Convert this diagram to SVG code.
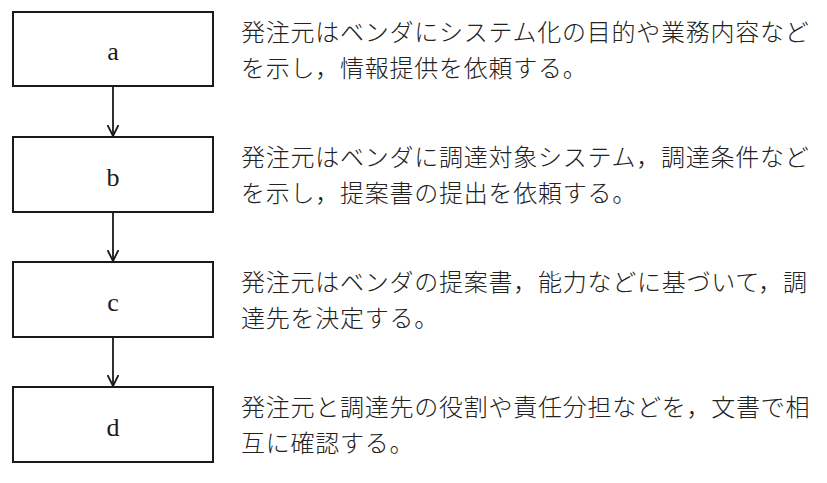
<svg xmlns="http://www.w3.org/2000/svg" width="827" height="483" viewBox="0 0 827 483">
<defs>
<style>
.box{fill:#fff;stroke:#1a1a1a;stroke-width:2}
.lbl{font-family:"Liberation Serif","Times New Roman",serif;font-size:26px;fill:#1a1a1a;text-anchor:middle}
.desc{font-family:"Noto Sans CJK JP","Noto Sans CJK SC",sans-serif;font-size:24px;font-weight:300;letter-spacing:0.75px;fill:#222}
.conn{stroke:#1a1a1a;stroke-width:1.8;fill:none}
</style>
<marker id="arr" viewBox="0 0 12 12" refX="11" refY="6" markerWidth="12" markerHeight="12" markerUnits="userSpaceOnUse" orient="auto">
<path d="M0,0.5 L11,6 L0,11.5" fill="none" stroke="#1a1a1a" stroke-width="1.8"/>
</marker>
</defs>
<rect width="827" height="483" fill="#fff"/>
<g id="connectors">
<line class="conn" x1="113" y1="86" x2="113" y2="136" marker-end="url(#arr)"/>
<line class="conn" x1="113" y1="212" x2="113" y2="261" marker-end="url(#arr)"/>
<line class="conn" x1="113" y1="337" x2="113" y2="386" marker-end="url(#arr)"/>
</g>
<g id="node-a">
<rect class="box" x="13" y="12" width="200" height="74"/>
<text class="lbl" x="113" y="60">a</text>
<text class="desc" x="241" y="41">発注元はベンダにシステム化の目的や業務内容など</text>
<text class="desc" x="241" y="77">を示し，情報提供を依頼する。</text>
</g>
<g id="node-b">
<rect class="box" x="13" y="137" width="200" height="75"/>
<text class="lbl" x="113" y="186">b</text>
<text class="desc" x="241" y="166">発注元はベンダに調達対象システム，調達条件など</text>
<text class="desc" x="241" y="202">を示し，提案書の提出を依頼する。</text>
</g>
<g id="node-c">
<rect class="box" x="13" y="262" width="200" height="75"/>
<text class="lbl" x="113" y="311">c</text>
<text class="desc" x="241" y="291">発注元はベンダの提案書，能力などに基づいて，調</text>
<text class="desc" x="241" y="327">達先を決定する。</text>
</g>
<g id="node-d">
<rect class="box" x="13" y="387" width="200" height="75"/>
<text class="lbl" x="113" y="436">d</text>
<text class="desc" x="241" y="416">発注元と調達先の役割や責任分担などを，文書で相</text>
<text class="desc" x="241" y="452">互に確認する。</text>
</g>
</svg>
